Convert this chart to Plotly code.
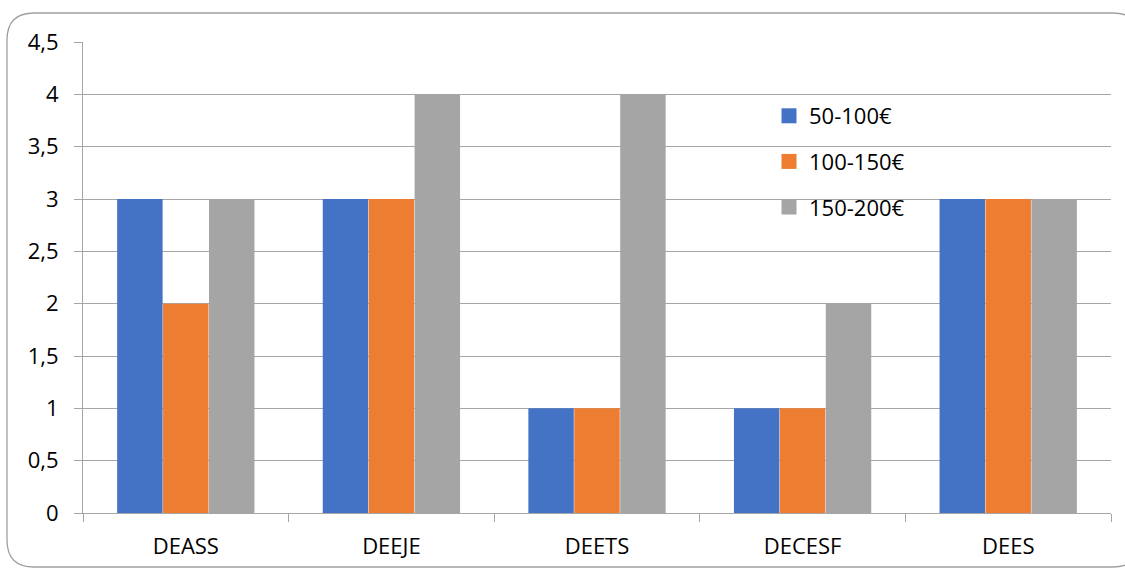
import plotly.graph_objects as go

categories = ["DEASS", "DEEJE", "DEETS", "DECESF", "DEES"]
series_names = ["50-100€", "100-150€", "150-200€"]
s1 = [3, 3, 1, 1, 3]
s2 = [2, 3, 1, 1, 3]
s3 = [3, 4, 4, 2, 3]
colors = ["#4472C4", "#ED7D31", "#A5A5A5"]
ytick_vals = [0, 0.5, 1, 1.5, 2, 2.5, 3, 3.5, 4, 4.5]
ytick_text = ["0", "0,5", "1", "1,5", "2", "2,5", "3", "3,5", "4", "4,5"]

W, H = 1125, 572
L, R, T, B = 83, 14, 42, 59
pw, ph = W - L - R, H - T - B

def px(x):
    return (x - L) / pw

def py(y):
    return (H - B - y) / ph

fig = go.Figure()
for name, vals, col in zip(series_names, [s1, s2, s3], colors):
    fig.add_trace(go.Bar(x=categories, y=vals, name=name, marker_color=col,
                         marker_line_width=0, showlegend=False))
# legend entries with square swatches
for name, col in zip(series_names, colors):
    fig.add_trace(go.Scatter(x=[None], y=[None], mode="markers", name=name,
                             marker=dict(symbol="square", size=15, color=col),
                             legendgroup=name))

# rounded chart border
x0, x1, y0, y1, r = 7, 1140, 13, 567, 27
path = (f"M {px(x0 + r)},{py(y0)} L {px(x1 - r)},{py(y0)} "
        f"Q {px(x1)},{py(y0)} {px(x1)},{py(y0 + r)} "
        f"L {px(x1)},{py(y1 - r)} Q {px(x1)},{py(y1)} {px(x1 - r)},{py(y1)} "
        f"L {px(x0 + r)},{py(y1)} Q {px(x0)},{py(y1)} {px(x0)},{py(y1 - r)} "
        f"L {px(x0)},{py(y0 + r)} Q {px(x0)},{py(y0)} {px(x0 + r)},{py(y0)} Z")
fig.add_shape(type="path", path=path, xref="paper", yref="paper",
              line=dict(color="#A0A0A0", width=1.3), layer="below")

fig.update_layout(
    width=W, height=H,
    margin=dict(l=L, r=R, t=T, b=B),
    paper_bgcolor="white", plot_bgcolor="white",
    font=dict(family="Open Sans, Noto Sans, sans-serif", size=22, color="#000000"),
    barmode="group", bargap=0.33, bargroupgap=0.01,
    legend=dict(x=px(769), y=py(95), xanchor="left", yanchor="top",
                bgcolor="rgba(255,255,255,0)", font=dict(size=22),
                tracegroupgap=14, traceorder="grouped"),
    xaxis=dict(showline=True, linecolor="#A6A6A6", linewidth=1,
               ticks="outside", ticklen=8, tickcolor="#A6A6A6",
               tickson="boundaries", showgrid=False, fixedrange=True,
               ticklabelstandoff=14),
    yaxis=dict(range=[0, 4.5], tickvals=ytick_vals, ticktext=ytick_text,
               showline=True, linecolor="#A6A6A6", linewidth=1,
               showgrid=True, gridcolor="#A6A6A6", gridwidth=1,
               ticks="outside", ticklen=8, tickcolor="#A6A6A6",
               ticklabelstandoff=11, zeroline=False, fixedrange=True),
)

fig.write_html("out.html", config={"displayModeBar": False},
               post_script="document.body.style.margin='0';")
